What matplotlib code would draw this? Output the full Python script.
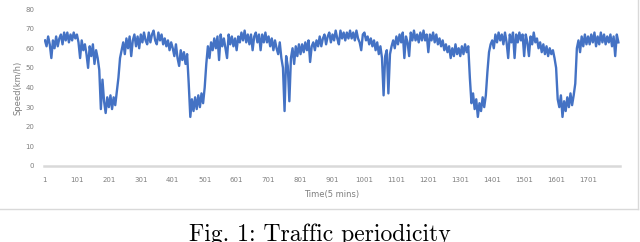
import numpy as np
import matplotlib.pyplot as plt
from matplotlib.lines import Line2D

# скорость, одно значение на каждые 5 интервалов
speed = [
    64, 61, 66, 62, 55, 64, 60, 66, 61, 65, 67, 62, 68, 64, 68, 63, 67, 64, 68, 65,
    67, 63, 55, 64, 59, 62, 57, 50, 61, 56, 62, 52, 59, 55, 49, 29, 44, 33, 27, 35,
    30, 36, 29, 35, 31, 38, 45, 55, 59, 63, 57, 65, 60, 66, 56, 64, 67, 61, 66, 60,
    67, 63, 68, 64, 62, 68, 63, 67, 69, 64, 62, 68, 64, 67, 62, 65, 61, 64, 59, 63,
    60, 56, 62, 55, 51, 59, 54, 58, 52, 57, 42, 25, 34, 28, 35, 29, 36, 30, 37, 32,
    40, 52, 61, 55, 63, 59, 65, 60, 66, 54, 67, 61, 65, 60, 55, 67, 62, 66, 61, 65,
    59, 66, 63, 68, 64, 69, 63, 67, 62, 67, 59, 66, 68, 63, 67, 59, 67, 63, 68, 63,
    66, 61, 65, 59, 64, 60, 57, 63, 55, 50, 28, 56, 51, 33, 55, 60, 52, 61, 56, 62,
    57, 62, 58, 63, 59, 64, 53, 61, 63, 59, 64, 61, 66, 61, 65, 67, 62, 66, 68, 63,
    67, 64, 69, 65, 62, 69, 65, 68, 64, 68, 65, 69, 65, 68, 64, 69, 65, 63, 59, 67,
    68, 64, 66, 62, 65, 61, 64, 59, 63, 57, 61, 55, 36, 56, 59, 37, 57, 61, 64, 60,
    66, 62, 67, 63, 68, 55, 66, 63, 56, 68, 64, 69, 64, 67, 63, 68, 64, 69, 64, 67,
    58, 67, 64, 68, 63, 67, 62, 65, 61, 64, 59, 62, 58, 61, 55, 60, 56, 62, 57, 60,
    56, 61, 57, 62, 58, 61, 45, 32, 37, 29, 34, 25, 32, 28, 35, 30, 36, 48, 58, 62,
    64, 60, 67, 63, 68, 64, 67, 62, 68, 63, 55, 67, 63, 68, 55, 67, 63, 68, 64, 67,
    56, 67, 63, 56, 66, 62, 68, 63, 65, 60, 63, 58, 62, 57, 61, 56, 60, 57, 59, 55,
    50, 34, 30, 36, 25, 33, 28, 35, 30, 37, 31, 36, 42, 60, 64, 58, 66, 61, 67, 62,
    66, 62, 67, 63, 68, 61, 66, 62, 68, 63, 67, 62, 66, 63, 67, 61, 66, 56, 67, 63,
]
time_idx = np.arange(1, 1800, 5)

xtick_pos = list(range(1, 1800, 100))
xtick_labels = [str(v) for v in xtick_pos]
ytick_pos = list(range(0, 81, 10))

fig = plt.figure(figsize=(6.4, 2.42), dpi=100)
ax = fig.add_axes([44 / 640, 1 - 166 / 242, 576 / 640, 157 / 242])

ax.plot(time_idx, speed, color='#4472C4', lw=1.7)

ax.set_xlim(-2, 1801)
ax.set_ylim(0, 80)
ax.set_xticks(xtick_pos)
ax.set_xticklabels(xtick_labels)
ax.set_yticks(ytick_pos)
ax.tick_params(length=0, labelsize=5, labelcolor='#7f7f7f')
ax.tick_params(axis='x', pad=8)
ax.tick_params(axis='y', pad=7)
for s in ['top', 'right', 'left']:
    ax.spines[s].set_visible(False)
ax.spines['bottom'].set_color('#d9d9d9')
ax.spines['bottom'].set_linewidth(1.8)

ax.set_xlabel('Time(5 mins)', fontsize=6, color='#7f7f7f', labelpad=5)
ax.set_ylabel('Speed(km/h)', fontsize=6, color='#7f7f7f', labelpad=2)

# рамка диаграммы
fig.add_artist(Line2D([0, 638 / 640], [1 - 209 / 242] * 2, color='#d9d9d9', lw=1))
fig.add_artist(Line2D([638 / 640] * 2, [1 - 209 / 242, 1], color='#d9d9d9', lw=1))

# подпись (в оригинале обрезана снизу)
fig.text(0.5, 1 - 224 / 242, 'Fig. 1: Traffic periodicity', family='cmr10',
         fontsize=17, ha='center', va='top')

fig.savefig('out.png', dpi=100)
